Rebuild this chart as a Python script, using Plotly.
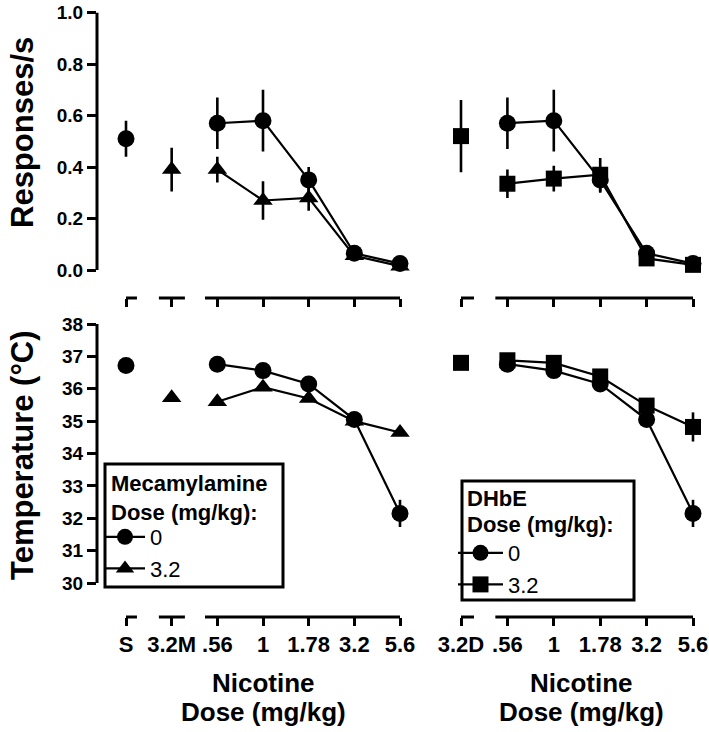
import plotly.graph_objects as go

# ---------------- data ----------------
cats_left = ["S", "3.2M", ".56", "1", "1.78", "3.2", "5.6"]
cats_right = ["3.2D", ".56", "1", "1.78", "3.2", "5.6"]
nic_doses = [".56", "1", "1.78", "3.2", "5.6"]

# Responses/s
saline_rate, saline_rate_err = 0.51, 0.07
mec_alone_rate, mec_alone_rate_err = 0.39, 0.085
dhbe_alone_rate, dhbe_alone_rate_err = 0.52, 0.14
nic_rate = [0.57, 0.58, 0.35, 0.065, 0.025]
nic_rate_err = [0.10, 0.12, 0.05, 0.01, 0.01]
nic_mec_rate = [0.39, 0.27, 0.28, 0.055, 0.015]
nic_mec_rate_err = [0.05, 0.075, 0.05, 0.01, 0.01]
nic_dhbe_rate = [0.335, 0.355, 0.37, 0.045, 0.02]
nic_dhbe_rate_err = [0.055, 0.05, 0.065, 0.01, 0.01]

# Temperature (°C)
saline_temp, saline_temp_err = 36.72, 0.1
mec_alone_temp, mec_alone_temp_err = 35.72, 0.1
dhbe_alone_temp, dhbe_alone_temp_err = 36.8, 0.1
nic_temp = [36.76, 36.56, 36.15, 35.05, 32.15]
nic_temp_err = [0.1, 0.1, 0.1, 0.1, 0.42]
nic_mec_temp = [35.6, 36.05, 35.7, 35.0, 34.65]
nic_mec_temp_err = [0.1, 0.1, 0.1, 0.1, 0.1]
nic_dhbe_temp = [36.88, 36.8, 36.38, 35.48, 34.82]
nic_dhbe_temp_err = [0.1, 0.1, 0.1, 0.1, 0.45]

rate_ticks = [0.0, 0.2, 0.4, 0.6, 0.8, 1.0]
temp_ticks = [30, 31, 32, 33, 34, 35, 36, 37, 38]

legend1_title = ["Mecamylamine", "Dose (mg/kg):"]
legend2_title = ["DHbE", "Dose (mg/kg):"]
legend_labels = ["0", "3.2"]

# ---------------- layout helpers ----------------
W, H = 709, 732
FONT = "Liberation Sans, Arial, sans-serif"
BLACK = "black"


def px_x(p):
    return p / W


def px_y(p):
    return 1 - p / H


idxL = {c: i for i, c in enumerate(cats_left)}
idxR = {c: i for i, c in enumerate(cats_right)}
xs_nic_L = [idxL[c] for c in nic_doses]
xs_nic_R = [idxR[c] for c in nic_doses]

fig = go.Figure()


def err(arr):
    return dict(type="data", array=arr, color=BLACK, thickness=2.6, width=0)


def add_line(x, y, e, symbol, size, xa, ya, name=None, legend=None, show=False, rank=1000):
    fig.add_trace(go.Scatter(
        x=x, y=y, mode="lines+markers", error_y=err(e),
        line=dict(color=BLACK, width=2.2),
        marker=dict(symbol=symbol, size=size, color=BLACK, line=dict(width=0)),
        xaxis=xa, yaxis=ya, cliponaxis=False,
        name=name, showlegend=show, legend=legend, legendrank=rank))


def add_point(x, y, e, symbol, size, xa, ya):
    fig.add_trace(go.Scatter(
        x=[x], y=[y], mode="markers", error_y=err([e]),
        marker=dict(symbol=symbol, size=size, color=BLACK, line=dict(width=0)),
        xaxis=xa, yaxis=ya, cliponaxis=False, showlegend=False))


CS, TS, SS = 17, 17, 16

# top-left
add_point(idxL["S"], saline_rate, saline_rate_err, "circle", CS, "x", "y")
add_point(idxL["3.2M"], mec_alone_rate, mec_alone_rate_err, "triangle-up", TS, "x", "y")
add_line(xs_nic_L, nic_mec_rate, nic_mec_rate_err, "triangle-up", TS, "x", "y")
add_line(xs_nic_L, nic_rate, nic_rate_err, "circle", CS, "x", "y")
# top-right
add_point(idxR["3.2D"], dhbe_alone_rate, dhbe_alone_rate_err, "square", SS, "x2", "y2")
add_line(xs_nic_R, nic_rate, nic_rate_err, "circle", CS, "x2", "y2")
add_line(xs_nic_R, nic_dhbe_rate, nic_dhbe_rate_err, "square", SS, "x2", "y2")
# bottom-left
add_point(idxL["S"], saline_temp, saline_temp_err, "circle", CS, "x3", "y3")
add_point(idxL["3.2M"], mec_alone_temp, mec_alone_temp_err, "triangle-up", TS, "x3", "y3")
add_line(xs_nic_L, nic_temp, nic_temp_err, "circle", CS, "x3", "y3",
         name=legend_labels[0], legend="legend", show=True, rank=1)
add_line(xs_nic_L, nic_mec_temp, nic_mec_temp_err, "triangle-up", TS, "x3", "y3",
         name=legend_labels[1], legend="legend", show=True, rank=2)
# bottom-right
add_point(idxR["3.2D"], dhbe_alone_temp, dhbe_alone_temp_err, "square", SS, "x4", "y4")
add_line(xs_nic_R, nic_dhbe_temp, nic_dhbe_temp_err, "square", SS, "x4", "y4",
         name=legend_labels[1], legend="legend2", show=True, rank=2)
add_line(xs_nic_R, nic_temp, nic_temp_err, "circle", CS, "x4", "y4",
         name=legend_labels[0], legend="legend2", show=True, rank=1)

# geometry (pixels in the 709x732 window)
TOP_Y0, TOP_Y1 = 298, 12.5          # domain bottom / top pixel
TOP_ZERO = 270                       # pixel of 0.0
BOT_Y0, BOT_Y1 = 617, 324
BOT_30 = 583
L_X0, L_X1, L_I0, L_I6 = 97, 420, 126, 400
R_X0, R_X1, R_I0, R_I5 = 440, 709, 461, 693

top_scale = (TOP_ZERO - TOP_Y1) / 1.0
top_range = [-(TOP_Y0 - TOP_ZERO) / top_scale, 1.0]
bot_scale = (BOT_30 - BOT_Y1) / 8.0
bot_range = [30 - (BOT_Y0 - BOT_30) / bot_scale, 38]
lsc = (L_I6 - L_I0) / 6
left_range = [(L_X0 - L_I0) / lsc, (L_X1 - L_I0) / lsc]
rsc = (R_I5 - R_I0) / 5
right_range = [(R_X0 - R_I0) / rsc, (R_X1 - R_I0) / rsc]

tickfont_y = dict(family=FONT, size=19, color=BLACK, weight="bold")
tickfont_x = dict(family=FONT, size=22, color=BLACK, weight="bold")

common_x = dict(showgrid=False, zeroline=False, showline=False, ticks="outside",
                ticklen=8, tickwidth=2.6, tickcolor=BLACK, tickfont=tickfont_x,
                automargin=False, ticklabeloverflow="allow")
common_y = dict(showgrid=False, zeroline=False, showline=False, automargin=False,
                ticklabeloverflow="allow")

LEG_FONT = 22
leg_common = dict(xanchor="left", yanchor="top", borderwidth=0,
                  bgcolor="rgba(0,0,0,0)",
                  font=dict(family=FONT, size=LEG_FONT, color=BLACK),
                  tracegroupgap=0, traceorder="normal")

fig.update_layout(
    template="none",
    width=W, height=H, margin=dict(l=0, r=0, t=0, b=0, pad=0, autoexpand=False),
    paper_bgcolor="white", plot_bgcolor="white",
    font=dict(family=FONT, color=BLACK),
    xaxis=dict(domain=[px_x(L_X0), px_x(L_X1)], range=left_range, anchor="y",
               tickvals=list(range(len(cats_left))), ticktext=cats_left,
               showticklabels=False, **common_x),
    xaxis2=dict(domain=[px_x(R_X0), px_x(R_X1)], range=right_range, anchor="y2",
                tickvals=list(range(len(cats_right))), ticktext=cats_right,
                showticklabels=False, **common_x),
    xaxis3=dict(domain=[px_x(L_X0), px_x(L_X1)], range=left_range, anchor="y3",
                tickvals=list(range(len(cats_left))), ticktext=cats_left,
                showticklabels=True, **common_x),
    xaxis4=dict(domain=[px_x(R_X0), px_x(R_X1)], range=right_range, anchor="y4",
                tickvals=list(range(len(cats_right))), ticktext=cats_right,
                showticklabels=True, **common_x),
    yaxis=dict(domain=[px_y(TOP_Y0), px_y(TOP_Y1)], range=top_range, anchor="x",
               tickvals=rate_ticks, tickformat=".1f", ticks="outside", ticklen=9,
               tickwidth=2.6, tickcolor=BLACK, tickfont=tickfont_y, **common_y),
    yaxis2=dict(domain=[px_y(TOP_Y0), px_y(TOP_Y1)], range=top_range, anchor="x2",
                showticklabels=False, ticks="", **common_y),
    yaxis3=dict(domain=[px_y(BOT_Y0), px_y(BOT_Y1)], range=bot_range, anchor="x3",
                tickvals=temp_ticks, ticks="outside", ticklen=9,
                tickwidth=2.6, tickcolor=BLACK, tickfont=tickfont_y, **common_y),
    yaxis4=dict(domain=[px_y(BOT_Y0), px_y(BOT_Y1)], range=bot_range, anchor="x4",
                showticklabels=False, ticks="", **common_y),
    legend=dict(x=px_x(100), y=px_y(516), itemwidth=40, **leg_common),
    legend2=dict(x=px_x(453), y=px_y(532), itemwidth=45, **leg_common),
)

shapes = []
AXW = 3
# y-axis lines
shapes.append(dict(type="line", xref="x domain", yref="y", x0=0, x1=0,
                   y0=rate_ticks[0], y1=rate_ticks[-1], line=dict(color=BLACK, width=AXW)))
shapes.append(dict(type="line", xref="x3 domain", yref="y3", x0=0, x1=0,
                   y0=temp_ticks[0], y1=temp_ticks[-1], line=dict(color=BLACK, width=AXW)))
# broken x-axis segments
left_segs = [(0, 0.24), (0.72, 1.29), (1.73, 6)]
right_segs = [(0, 0.28), (0.74, 5)]
for xa, ya, segs in [("x", "y", left_segs), ("x3", "y3", left_segs),
                     ("x2", "y2", right_segs), ("x4", "y4", right_segs)]:
    for a, b in segs:
        shapes.append(dict(type="line", xref=xa, yref=ya + " domain", x0=a, x1=b,
                           y0=0, y1=0, line=dict(color=BLACK, width=AXW)))
# legend frames
for (x0, y0, x1, y1) in [(105, 464, 283, 587), (462, 481, 634, 600)]:
    shapes.append(dict(type="rect", xref="paper", yref="paper",
                       x0=px_x(x0), x1=px_x(x1), y0=px_y(y1), y1=px_y(y0),
                       line=dict(color=BLACK, width=3), fillcolor="rgba(0,0,0,0)",
                       layer="above"))
fig.update_layout(shapes=shapes)

ann = []
ytf = dict(family=FONT, size=31, color=BLACK, weight="bold")
xtf = dict(family=FONT, size=26, color=BLACK, weight="bold")
ltf = dict(family=FONT, size=LEG_FONT, color=BLACK, weight="bold")
ann.append(dict(text="Responses/s", x=px_x(22), y=px_y(133), xref="paper", yref="paper",
                textangle=-90, showarrow=False, font=ytf, xanchor="center", yanchor="middle"))
ann.append(dict(text="Temperature (°C)", x=px_x(22), y=px_y(455), xref="paper", yref="paper",
                textangle=-90, showarrow=False, font=ytf, xanchor="center", yanchor="middle"))
for cx in (263, 581):
    ann.append(dict(text="Nicotine", x=px_x(cx), y=px_y(683), xref="paper", yref="paper",
                    showarrow=False, font=xtf, xanchor="center", yanchor="middle"))
    ann.append(dict(text="Dose (mg/kg)", x=px_x(cx), y=px_y(712), xref="paper", yref="paper",
                    showarrow=False, font=xtf, xanchor="center", yanchor="middle"))
# legend titles
for txt, x, y in [(legend1_title[0], 109, 484), (legend1_title[1], 109, 512),
                  (legend2_title[0], 465, 498), (legend2_title[1], 465, 524)]:
    ann.append(dict(text=txt, x=px_x(x), y=px_y(y), xref="paper", yref="paper",
                    showarrow=False, font=ltf, xanchor="left", yanchor="middle"))
fig.update_layout(annotations=ann)

fig.write_html("out.html", config={"displayModeBar": False},
               post_script="document.body.style.margin='0px';")
